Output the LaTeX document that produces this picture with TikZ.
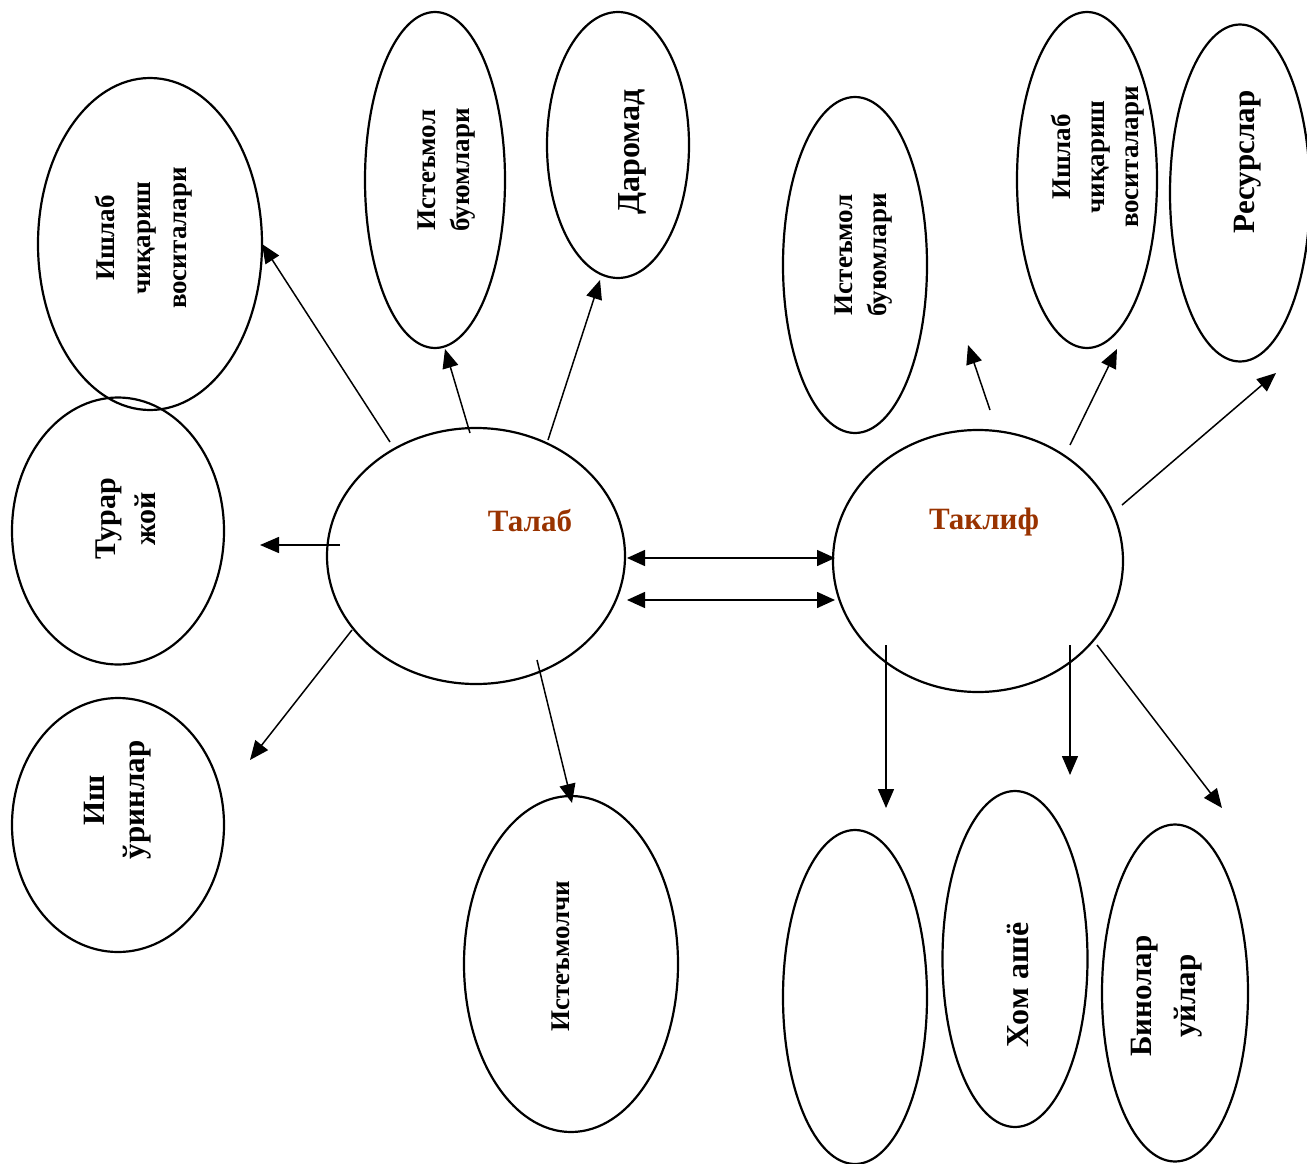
\documentclass[tikz,border=0pt]{standalone}
\usepackage{fontspec}
\setmainfont{Liberation Serif}
\usetikzlibrary{arrows.meta,shapes.geometric}
\definecolor{brn}{RGB}{153,51,0}
\newcommand\fsz[2]{\fontsize{#1}{#2}\selectfont\bfseries}
\begin{document}
\begin{tikzpicture}[x=1pt,y=-1pt,
  ell/.style={draw,ellipse,line width=2.2pt,inner sep=0pt,outer sep=0pt},
  lbl/.style={rotate=90,align=center,inner sep=0pt},
  arr/.style={line width=1.5pt,-{Triangle[length=19pt,width=16pt]}},
  darr/.style={line width=1.5pt,{Triangle[length=18pt,width=16pt]}-{Triangle[length=18pt,width=16pt]}}]
\useasboundingbox[fill=white] (0,0) rectangle (1307,1164);

% ellipses
\node[ell,minimum width=224pt,minimum height=332pt] (e1) at (150,244) {};
\node[ell,minimum width=212pt,minimum height=267pt] (e2) at (118,531) {};
\node[ell,minimum width=212pt,minimum height=254pt] (e3) at (118,825) {};
\node[ell,minimum width=140pt,minimum height=336pt] (e4) at (435,180) {};
\node[ell,minimum width=142pt,minimum height=266pt] (e5) at (618,145) {};
\node[ell,minimum width=298pt,minimum height=256pt] (talab) at (476,556) {};
\node[ell,minimum width=214pt,minimum height=336pt] (e7) at (571,964) {};
\node[ell,minimum width=144pt,minimum height=336pt] (e8) at (855,265) {};
\node[ell,minimum width=140pt,minimum height=336pt] (e9) at (1087,180) {};
\node[ell,minimum width=140pt,minimum height=337pt] (e10) at (1240,193) {};
\node[ell,minimum width=290pt,minimum height=262pt] (taklif) at (978,561) {};
\node[ell,minimum width=144pt,minimum height=334pt] (e12) at (855,997) {};
\node[ell,minimum width=145pt,minimum height=336pt] (e13) at (1015,959) {};
\node[ell,minimum width=146pt,minimum height=337pt] (e14) at (1175,993) {};

% labels
\node[lbl,font=\fsz{27}{36}] (t1) at (144,238) {Ишлаб\\чиқариш\\воситалари};
\node[lbl,font=\fsz{30}{40}] (t2) at (126,519) {Турар\\жой};
\node[lbl,font=\fsz{31}{40}] (t3) at (118,800) {Иш\\ўринлар};
\node[lbl,font=\fsz{27}{34}] (t4) at (447,170) {Истеъмол\\буюмлари};
\node[lbl,font=\fsz{32}{38}] (t5) at (632,152) {Даромад};
\node[inner sep=0pt,text=brn,font=\fsz{31}{36}] (t6) at (530,521) {Талаб};
\node[lbl,font=\fsz{27}{34}] (t7) at (561,956) {Истеъмолчи};
\node[lbl,font=\fsz{27}{34}] (t8) at (864,255) {Истеъмол\\буюмлари};
\node[lbl,font=\fsz{27}{34}] (t9) at (1098,157) {Ишлаб\\чиқариш\\воситалари};
\node[lbl,font=\fsz{31}{38}] (t10) at (1248,162) {Ресурслар};
\node[inner sep=0pt,text=brn,font=\fsz{31}{36}] (t11) at (984,522) {Таклиф};
\node[lbl,font=\fsz{32}{38}] (t13) at (1018,985) {Хом ашё};
\node[lbl,font=\fsz{31}{44}] (t14) at (1167,996) {Бинолар\\уйлар};

% connector end points
\coordinate (c1) at (390,442);
\coordinate (c2) at (470,433);
\coordinate (p2) at (445,349);
\coordinate (c3) at (548,440);
\coordinate (p3) at (600,280);
\coordinate (c4) at (340,545);
\coordinate (p4) at (260,545);
\coordinate (c5) at (352,630);
\coordinate (p5) at (250,760);
\coordinate (c6) at (537,660);
\coordinate (p6) at (572,803);
\coordinate (d1a) at (627,558);
\coordinate (d1b) at (835,558);
\coordinate (d2a) at (627,600);
\coordinate (d2b) at (835,600);
\coordinate (c8) at (990,410);
\coordinate (p8) at (968,345);
\coordinate (c9) at (1070,445);
\coordinate (p9) at (1117,349);
\coordinate (c10) at (1122,505);
\coordinate (p10) at (1276,373);
\coordinate (c11) at (886,645);
\coordinate (p11) at (886,808);
\coordinate (c12) at (1070,645);
\coordinate (p12) at (1070,775);
\coordinate (c13) at (1097,645);
\coordinate (p13) at (1222,808);

% connectors
\draw[arr] (c1) -- (e1.east);
\draw[arr] (c2) -- (p2);
\draw[arr] (c3) -- (p3);
\draw[arr] (c4) -- (p4);
\draw[arr] (c5) -- (p5);
\draw[arr] (c6) -- (p6);
\draw[darr] (d1a) -- (d1b);
\draw[darr] (d2a) -- (d2b);
\draw[arr] (c8) -- (p8);
\draw[arr] (c9) -- (p9);
\draw[arr] (c10) -- (p10);
\draw[arr] (c11) -- (p11);
\draw[arr] (c12) -- (p12);
\draw[arr] (c13) -- (p13);
\end{tikzpicture}
\end{document}
